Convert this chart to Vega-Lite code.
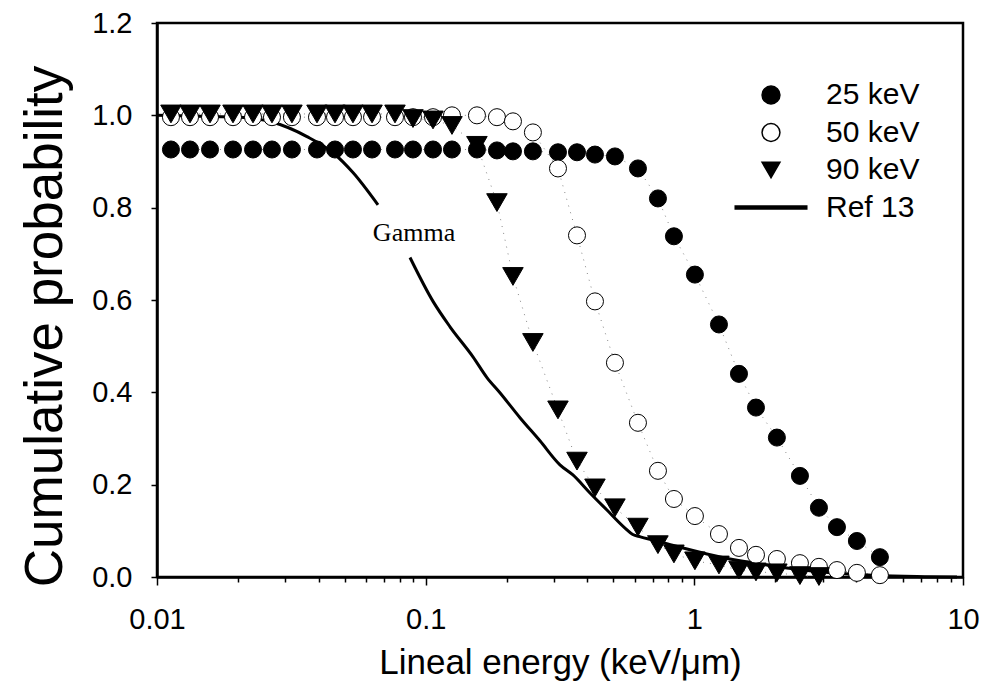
{
  "$schema": "https://vega.github.io/schema/vega-lite/v6.json",
  "width": 806,
  "height": 554,
  "autosize": {"type": "none"},
  "padding": {"left": 157, "top": 23, "right": 21, "bottom": 120},
  "background": "white",
  "config": {
    "view": {"stroke": "black", "strokeWidth": 2.5},
    "font": "Liberation Sans"
  },
  "datasets": {
    "pts": [
      {"series": "25 keV", "x": 0.01127, "y": 0.926},
      {"series": "25 keV", "x": 0.01327, "y": 0.926},
      {"series": "25 keV", "x": 0.01575, "y": 0.926},
      {"series": "25 keV", "x": 0.01918, "y": 0.926},
      {"series": "25 keV", "x": 0.02277, "y": 0.926},
      {"series": "25 keV", "x": 0.02679, "y": 0.926},
      {"series": "25 keV", "x": 0.03179, "y": 0.926},
      {"series": "25 keV", "x": 0.0394, "y": 0.926},
      {"series": "25 keV", "x": 0.04598, "y": 0.926},
      {"series": "25 keV", "x": 0.05363, "y": 0.926},
      {"series": "25 keV", "x": 0.06316, "y": 0.926},
      {"series": "25 keV", "x": 0.07688, "y": 0.926},
      {"series": "25 keV", "x": 0.08969, "y": 0.926},
      {"series": "25 keV", "x": 0.1065, "y": 0.926},
      {"series": "25 keV", "x": 0.1253, "y": 0.926},
      {"series": "25 keV", "x": 0.1552, "y": 0.926},
      {"series": "25 keV", "x": 0.1842, "y": 0.924},
      {"series": "25 keV", "x": 0.2113, "y": 0.922},
      {"series": "25 keV", "x": 0.2507, "y": 0.922},
      {"series": "25 keV", "x": 0.3108, "y": 0.92},
      {"series": "25 keV", "x": 0.3658, "y": 0.92},
      {"series": "25 keV", "x": 0.4267, "y": 0.915},
      {"series": "25 keV", "x": 0.5064, "y": 0.911},
      {"series": "25 keV", "x": 0.6168, "y": 0.885},
      {"series": "25 keV", "x": 0.7321, "y": 0.82},
      {"series": "25 keV", "x": 0.8396, "y": 0.738},
      {"series": "25 keV", "x": 1.005, "y": 0.655},
      {"series": "25 keV", "x": 1.235, "y": 0.547},
      {"series": "25 keV", "x": 1.466, "y": 0.44},
      {"series": "25 keV", "x": 1.696, "y": 0.367},
      {"series": "25 keV", "x": 2.029, "y": 0.302},
      {"series": "25 keV", "x": 2.472, "y": 0.219},
      {"series": "25 keV", "x": 2.909, "y": 0.15},
      {"series": "25 keV", "x": 3.395, "y": 0.108},
      {"series": "25 keV", "x": 4.028, "y": 0.078},
      {"series": "25 keV", "x": 4.906, "y": 0.043},

      {"series": "50 keV", "x": 0.01127, "y": 0.996},
      {"series": "50 keV", "x": 0.01327, "y": 0.996},
      {"series": "50 keV", "x": 0.01575, "y": 0.996},
      {"series": "50 keV", "x": 0.01918, "y": 0.996},
      {"series": "50 keV", "x": 0.02277, "y": 0.996},
      {"series": "50 keV", "x": 0.02679, "y": 0.996},
      {"series": "50 keV", "x": 0.03179, "y": 0.996},
      {"series": "50 keV", "x": 0.0394, "y": 0.996},
      {"series": "50 keV", "x": 0.04598, "y": 0.996},
      {"series": "50 keV", "x": 0.05363, "y": 0.996},
      {"series": "50 keV", "x": 0.06316, "y": 0.996},
      {"series": "50 keV", "x": 0.07688, "y": 0.996},
      {"series": "50 keV", "x": 0.08969, "y": 0.996},
      {"series": "50 keV", "x": 0.1065, "y": 0.996},
      {"series": "50 keV", "x": 0.1253, "y": 1.0},
      {"series": "50 keV", "x": 0.1552, "y": 1.0},
      {"series": "50 keV", "x": 0.1842, "y": 0.996},
      {"series": "50 keV", "x": 0.2113, "y": 0.987},
      {"series": "50 keV", "x": 0.2507, "y": 0.963},
      {"series": "50 keV", "x": 0.3108, "y": 0.885},
      {"series": "50 keV", "x": 0.3658, "y": 0.74},
      {"series": "50 keV", "x": 0.4267, "y": 0.597},
      {"series": "50 keV", "x": 0.5064, "y": 0.464},
      {"series": "50 keV", "x": 0.6168, "y": 0.334},
      {"series": "50 keV", "x": 0.7321, "y": 0.23},
      {"series": "50 keV", "x": 0.8396, "y": 0.169},
      {"series": "50 keV", "x": 1.005, "y": 0.132},
      {"series": "50 keV", "x": 1.235, "y": 0.093},
      {"series": "50 keV", "x": 1.466, "y": 0.063},
      {"series": "50 keV", "x": 1.696, "y": 0.048},
      {"series": "50 keV", "x": 2.029, "y": 0.039},
      {"series": "50 keV", "x": 2.472, "y": 0.03},
      {"series": "50 keV", "x": 2.909, "y": 0.022},
      {"series": "50 keV", "x": 3.395, "y": 0.015},
      {"series": "50 keV", "x": 4.028, "y": 0.009},
      {"series": "50 keV", "x": 4.906, "y": 0.004},

      {"series": "90 keV", "x": 0.01127, "y": 1.003},
      {"series": "90 keV", "x": 0.01327, "y": 1.003},
      {"series": "90 keV", "x": 0.01575, "y": 1.003},
      {"series": "90 keV", "x": 0.01918, "y": 1.003},
      {"series": "90 keV", "x": 0.02277, "y": 1.003},
      {"series": "90 keV", "x": 0.02679, "y": 1.003},
      {"series": "90 keV", "x": 0.03179, "y": 1.003},
      {"series": "90 keV", "x": 0.0394, "y": 1.003},
      {"series": "90 keV", "x": 0.04598, "y": 1.003},
      {"series": "90 keV", "x": 0.05363, "y": 1.003},
      {"series": "90 keV", "x": 0.06316, "y": 1.003},
      {"series": "90 keV", "x": 0.07688, "y": 1.003},
      {"series": "90 keV", "x": 0.08969, "y": 0.993},
      {"series": "90 keV", "x": 0.1065, "y": 0.99},
      {"series": "90 keV", "x": 0.1253, "y": 0.978},
      {"series": "90 keV", "x": 0.1552, "y": 0.935},
      {"series": "90 keV", "x": 0.1842, "y": 0.811},
      {"series": "90 keV", "x": 0.2113, "y": 0.651},
      {"series": "90 keV", "x": 0.2507, "y": 0.508},
      {"series": "90 keV", "x": 0.3108, "y": 0.362},
      {"series": "90 keV", "x": 0.3658, "y": 0.251},
      {"series": "90 keV", "x": 0.4267, "y": 0.193},
      {"series": "90 keV", "x": 0.5064, "y": 0.15},
      {"series": "90 keV", "x": 0.6168, "y": 0.108},
      {"series": "90 keV", "x": 0.7321, "y": 0.07},
      {"series": "90 keV", "x": 0.8396, "y": 0.05},
      {"series": "90 keV", "x": 1.005, "y": 0.035},
      {"series": "90 keV", "x": 1.235, "y": 0.026},
      {"series": "90 keV", "x": 1.466, "y": 0.015},
      {"series": "90 keV", "x": 1.696, "y": 0.011},
      {"series": "90 keV", "x": 2.029, "y": 0.009},
      {"series": "90 keV", "x": 2.472, "y": 0.003},
      {"series": "90 keV", "x": 2.909, "y": 0.001}
    ],
    "ref": [
      {"seg": "a", "x": 0.01, "y": 1.0},
      {"seg": "a", "x": 0.01445, "y": 0.998},
      {"seg": "a", "x": 0.02036, "y": 0.996},
      {"seg": "a", "x": 0.02702, "y": 0.985},
      {"seg": "a", "x": 0.03616, "y": 0.954},
      {"seg": "a", "x": 0.04519, "y": 0.919},
      {"seg": "a", "x": 0.05363, "y": 0.876},
      {"seg": "a", "x": 0.06645, "y": 0.806},
      {"seg": "b", "x": 0.08743, "y": 0.692},
      {"seg": "b", "x": 0.1065, "y": 0.597},
      {"seg": "b", "x": 0.1232, "y": 0.542},
      {"seg": "b", "x": 0.15, "y": 0.477},
      {"seg": "b", "x": 0.1691, "y": 0.432},
      {"seg": "b", "x": 0.189, "y": 0.399},
      {"seg": "b", "x": 0.2244, "y": 0.345},
      {"seg": "b", "x": 0.2663, "y": 0.295},
      {"seg": "b", "x": 0.3161, "y": 0.243},
      {"seg": "b", "x": 0.3533, "y": 0.221},
      {"seg": "b", "x": 0.4089, "y": 0.182},
      {"seg": "b", "x": 0.4729, "y": 0.145},
      {"seg": "b", "x": 0.552, "y": 0.106},
      {"seg": "b", "x": 0.59, "y": 0.092},
      {"seg": "b", "x": 0.63, "y": 0.087},
      {"seg": "b", "x": 0.70, "y": 0.08},
      {"seg": "b", "x": 0.79, "y": 0.072},
      {"seg": "b", "x": 1.114, "y": 0.05},
      {"seg": "b", "x": 1.478, "y": 0.035},
      {"seg": "b", "x": 1.962, "y": 0.024},
      {"seg": "b", "x": 3.01, "y": 0.011},
      {"seg": "b", "x": 4.62, "y": 0.004},
      {"seg": "b", "x": 6.74, "y": 0.001},
      {"seg": "b", "x": 9.5, "y": 0.0}
    ],
    "labels": [
      {"x": 0.0905, "y": 0.745, "text": "Gamma"}
    ]
  },
  "encoding": {
    "x": {
      "field": "x",
      "type": "quantitative",
      "scale": {"type": "log", "domain": [0.01, 10], "nice": false},
      "axis": {
        "title": "Lineal energy (keV/μm)",
        "values": [0.01, 0.02, 0.03, 0.04, 0.05, 0.06, 0.07, 0.08, 0.09, 0.1, 0.2, 0.3, 0.4, 0.5, 0.6, 0.7, 0.8, 0.9, 1, 2, 3, 4, 5, 6, 7, 8, 9, 10],
        "labelExpr": "datum.value == 0.01 ? '0.01' : datum.value == 0.1 ? '0.1' : datum.value == 1 ? '1' : datum.value == 10 ? '10' : ''",
        "labelOverlap": false,
        "labelFlush": false,
        "tickSize": {"condition": {"test": "datum.value == 0.01 || datum.value == 0.1 || datum.value == 1 || datum.value == 10", "value": 8}, "value": 5},
        "tickColor": "black",
        "tickWidth": 1.5,
        "domainColor": "black",
        "domainWidth": 2.5,
        "grid": false,
        "labelFont": "Liberation Sans",
        "labelFontSize": 29,
        "labelColor": "black",
        "labelPadding": 20,
        "titleFont": "Liberation Sans",
        "titleFontSize": 35,
        "titleFontWeight": "normal",
        "titleColor": "black",
        "titlePadding": 11
      }
    },
    "y": {
      "field": "y",
      "type": "quantitative",
      "scale": {"domain": [0, 1.2], "nice": false, "zero": false},
      "axis": {
        "title": "Cumulative probability",
        "values": [0, 0.2, 0.4, 0.6, 0.8, 1.0, 1.2],
        "format": ".1f",
        "tickSize": 6,
        "tickColor": "black",
        "tickWidth": 1.5,
        "domainColor": "black",
        "domainWidth": 2.5,
        "grid": false,
        "labelFont": "Liberation Sans",
        "labelFontSize": 29,
        "labelColor": "black",
        "labelPadding": 19,
        "titleFont": "Liberation Sans",
        "titleFontSize": 53,
        "titleFontWeight": "normal",
        "titleColor": "black",
        "titleX": -85,
        "titleY": 303,
        "titleAngle": -90,
        "titleAlign": "center",
        "titleBaseline": "bottom"
      }
    }
  },
  "layer": [
    {
      "data": {"name": "pts"},
      "mark": {"type": "line", "strokeDash": [1, 6], "strokeWidth": 1, "color": "#888888"},
      "encoding": {"detail": {"field": "series"}}
    },
    {
      "data": {"name": "ref"},
      "mark": {"type": "line", "strokeWidth": 3, "color": "black", "interpolate": "monotone"},
      "encoding": {"detail": {"field": "seg"}}
    },
    {
      "data": {"name": "pts"},
      "mark": {"type": "point", "size": 300, "opacity": 1, "strokeWidth": 1},
      "encoding": {
        "shape": {
          "field": "series",
          "type": "nominal",
          "scale": {"domain": ["25 keV", "50 keV", "90 keV", "Ref 13"], "range": ["circle", "circle", "triangle-down", "M-4,-0.17L4,-0.17L4,0.17L-4,0.17Z"]},
          "legend": {
            "title": null,
            "orient": "none",
            "legendX": 599,
            "legendY": 57,
            "padding": 0,
            "symbolSize": 320,
            "labelFont": "Liberation Sans",
            "labelFontSize": 30,
            "labelColor": "black",
            "labelOffset": 40,
            "rowPadding": 7.5,
            "symbolOpacity": 1,
            "encode": {
              "symbols": {
                "update": {
                  "stroke": {"value": "black"},
                  "fill": [{"test": "datum.value == '50 keV'", "value": "white"}, {"value": "black"}]
                }
              }
            }
          }
        },
        "fill": {
          "field": "series",
          "type": "nominal",
          "scale": {"domain": ["25 keV", "50 keV", "90 keV", "Ref 13"], "range": ["black", "white", "black", "black"]},
          "legend": null
        },
        "stroke": {"value": "black"},
        "size": {"condition": {"test": "datum.series == '90 keV'", "value": 420}, "value": 290}
      }
    },
    {
      "data": {"name": "labels"},
      "mark": {"type": "text", "font": "Liberation Serif", "fontSize": 26, "color": "black", "align": "center", "baseline": "middle"},
      "encoding": {"text": {"field": "text"}}
    }
  ]
}
